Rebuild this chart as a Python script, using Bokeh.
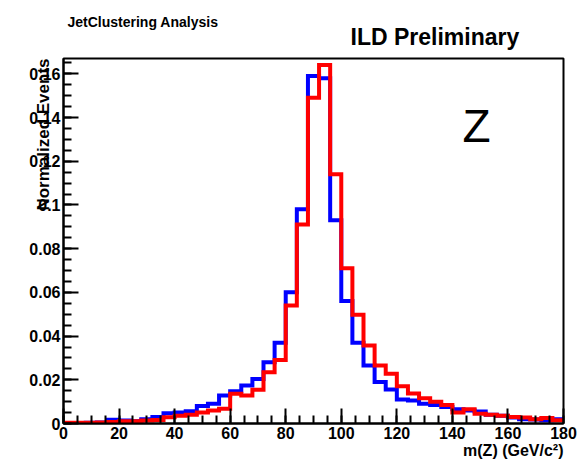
from bokeh.plotting import figure
from bokeh.models import Range1d, FixedTicker, Label, Title
from bokeh.embed import file_html
from bokeh.resources import INLINE

# ---- data ----
bin_edges = list(range(0, 181, 4))  # 45 bins of width 4 GeV

blue_vals = [0.0, 0.0, 0.0003, 0.0005, 0.0017, 0.0014, 0.001, 0.002, 0.003, 0.0047,
             0.005, 0.0056, 0.008, 0.009, 0.0128, 0.0148, 0.0174, 0.0204, 0.028, 0.037,
             0.060, 0.098, 0.159, 0.158, 0.093, 0.056, 0.037, 0.0265, 0.019, 0.0155,
             0.011, 0.0105, 0.009, 0.0085, 0.0075, 0.0065, 0.006, 0.0055, 0.004, 0.0035,
             0.0028, 0.002, 0.0018, 0.0015, 0.002]

red_vals = [0.0003, 0.0003, 0.0004, 0.0005, 0.0007, 0.001, 0.001, 0.0014, 0.0016, 0.0029,
            0.0036, 0.004, 0.005, 0.006, 0.0067, 0.0136, 0.0128, 0.0154, 0.0235, 0.029,
            0.054, 0.091, 0.149, 0.164, 0.114, 0.071, 0.0498, 0.0357, 0.0265, 0.0228,
            0.017, 0.0137, 0.0115, 0.010, 0.0085, 0.005, 0.0065, 0.0045, 0.004, 0.0035,
            0.003, 0.0028, 0.002, 0.0025, 0.0015]

x_ticks = [0, 20, 40, 60, 80, 100, 120, 140, 160, 180]
y_ticks = [0, 0.02, 0.04, 0.06, 0.08, 0.1, 0.12, 0.14, 0.16]
y_tick_labels = ["0", "0.02", "0.04", "0.06", "0.08", "0.1", "0.12", "0.14", "0.16"]

X_MAX = 180
Y_MAX = 0.167

FONT = "Liberation Sans"

p = figure(width=584, height=462, output_backend="svg", toolbar_location=None,
           x_range=Range1d(0, X_MAX), y_range=Range1d(0, Y_MAX),
           min_border_left=63, min_border_right=21, min_border_top=58, min_border_bottom=39)

p.background_fill_color = "white"
p.border_fill_color = "white"
p.outline_line_color = "black"
p.outline_line_width = 2
p.xgrid.visible = False
p.ygrid.visible = False

# titles above the frame (first one outermost)
p.title.text = "JetClustering Analysis"
p.title.align = "left"
p.title.offset = 4
p.title.text_font = FONT
p.title.text_font_style = "bold"
p.title.text_font_size = "14px"
p.title.text_color = "black"
p.title.standoff = -32

p.add_layout(Title(text="ILD Preliminary", align="left", offset=287,
                   text_font=FONT, text_font_style="bold", text_font_size="23px",
                   text_color="black", standoff=17), "above")

# axes
for ax in (p.xaxis[0], p.yaxis[0]):
    ax.axis_line_color = "black"
    ax.axis_line_width = 2
    ax.major_tick_in = 15
    ax.major_tick_out = 0
    ax.minor_tick_in = 8
    ax.minor_tick_out = 0
    ax.major_tick_line_width = 2
    ax.minor_tick_line_width = 2
    ax.major_tick_line_color = "black"
    ax.minor_tick_line_color = "black"
    ax.major_label_text_font = FONT
    ax.major_label_text_font_style = "bold"
    ax.major_label_text_font_size = "16px"
    ax.major_label_text_color = "black"

p.xaxis[0].ticker = FixedTicker(ticks=x_ticks, minor_ticks=list(range(0, 181, 5)))
p.xaxis[0].major_label_standoff = 3

p.yaxis[0].ticker = FixedTicker(ticks=y_ticks, minor_ticks=[i * 0.005 for i in range(0, 34)])
p.yaxis[0].major_label_overrides = {t: l for t, l in zip(y_ticks, y_tick_labels)}
p.yaxis[0].major_label_standoff = 3

# axis titles (ROOT style: aligned at the end of the axis)
p.add_layout(Title(text="m(Z) (GeV/c²)", align="right", offset=0, vertical_align="top",
                   text_font=FONT, text_font_style="bold", text_font_size="16px",
                   text_color="black", standoff=0), "below")
p.add_layout(Title(text="Normalized Events", align="right", offset=0,
                   text_font=FONT, text_font_style="bold", text_font_size="17px",
                   text_color="black", standoff=-53), "left")

# histograms
p.step(x=bin_edges, y=blue_vals + [blue_vals[-1]], mode="after",
       line_color="#0000ff", line_width=4, line_join="miter")
p.step(x=bin_edges, y=red_vals + [red_vals[-1]], mode="after",
       line_color="#ff0000", line_width=4, line_join="miter")

# "Z" inside the frame (data units)
p.add_layout(Label(x=148.7, y=0.1363, text="Z", text_font=FONT, text_font_size="46px",
                   text_align="center", text_baseline="middle", text_color="black"))

open("out.html", "w").write(file_html(p, INLINE))
